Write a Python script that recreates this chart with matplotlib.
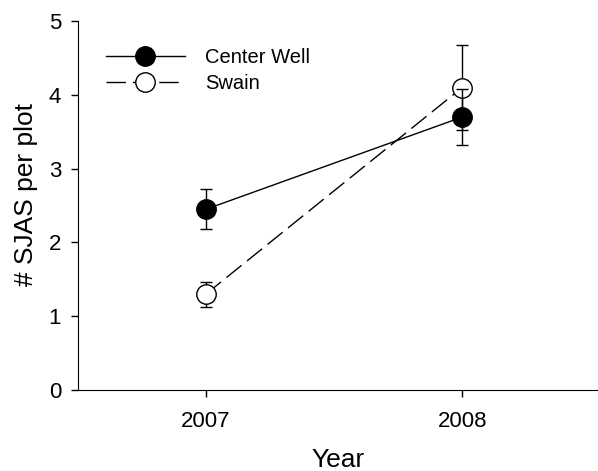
import matplotlib
matplotlib.use("Agg")
import matplotlib.pyplot as plt
from matplotlib.lines import Line2D

# данные
years = [2007, 2008]
center_well = [2.45, 3.70]
center_well_err = [0.27, 0.38]
swain = [1.30, 4.10]
swain_err = [0.17, 0.58]

plt.rcParams['font.family'] = ['Liberation Sans', 'DejaVu Sans']

fig = plt.figure(figsize=(5.98, 4.71), dpi=100)
ax = fig.add_axes([0.130, 0.172, 0.870, 0.783])

dash = (0, (14, 5))
ax.errorbar(years, swain, yerr=swain_err, color='black', lw=1, ls=dash,
            marker='o', ms=14, mfc='white', mec='black', mew=1,
            capsize=4, elinewidth=1, capthick=1, zorder=3)
ax.errorbar(years, center_well, yerr=center_well_err, color='black', lw=1,
            marker='o', ms=14, mfc='black', mec='black',
            capsize=4, elinewidth=1, capthick=1, zorder=4)

ax.set_xlim(2006.5, 2008.53)
ax.set_ylim(0, 5)
ax.set_xticks(years)
ax.set_xticklabels([str(y) for y in years])
ax.set_yticks([0, 1, 2, 3, 4, 5])

ax.spines['top'].set_visible(False)
ax.spines['right'].set_visible(False)
ax.tick_params(direction='out', length=5, width=1, labelsize=16)
ax.tick_params(axis='x', pad=10)
ax.tick_params(axis='y', pad=7)

ax.set_xlabel('Year', fontsize=19, labelpad=12)
ax.set_ylabel('# SJAS per plot', fontsize=19)
ax.yaxis.set_label_coords(-0.077, 0.53)

# легенда без усов погрешностей
h1 = Line2D([], [], color='black', lw=1, marker='o', ms=14, mfc='black', mec='black')
h2 = Line2D([], [], color='black', lw=1, ls=dash, marker='o', ms=14, mfc='white', mec='black')
ax.legend([h1, h2], ['Center Well', 'Swain'], loc='upper left', bbox_to_anchor=(0.039, 0.95),
          frameon=False, fontsize=14.5, handlelength=3.9, handletextpad=1.0,
          labelspacing=0.35, borderaxespad=0)

fig.savefig('out.png', dpi=100)
